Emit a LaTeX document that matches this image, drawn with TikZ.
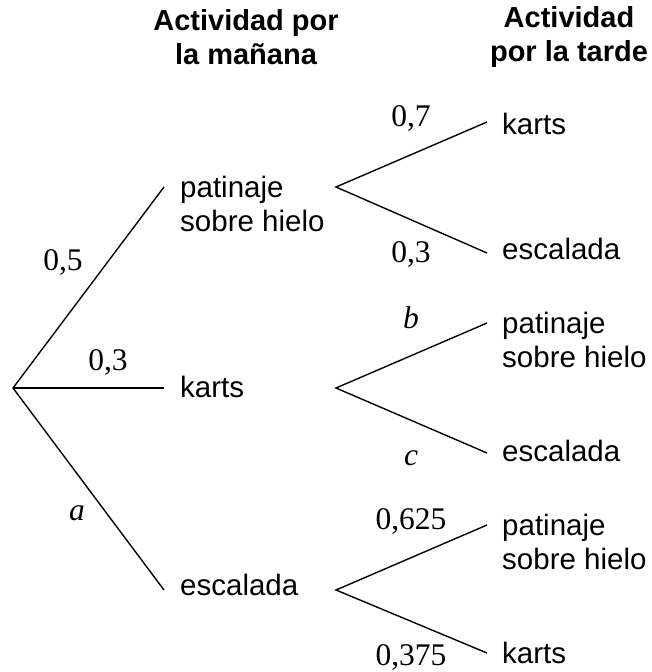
\documentclass[tikz,border=0pt]{standalone}
\usepackage{fontspec}
\setmainfont{Liberation Serif}
\setsansfont{Liberation Sans}
\usetikzlibrary{positioning}

\tikzset{
  outcome/.style={font=\sffamily\fontsize{29.5}{34}\selectfont, align=left, inner sep=0pt},
  header/.style={font=\sffamily\bfseries\fontsize{29}{34}\selectfont, align=center, inner sep=0pt},
  prob/.style={font=\fontsize{31.5}{34}\selectfont, inner sep=0pt},
  branch/.style={line width=1.4pt},
}

\begin{document}
\begin{tikzpicture}[x=1pt, y=-1pt]
      \useasboundingbox (0,0) rectangle (652,672);
      % headers
      \node[header] (hm) at (246,37) {Actividad por\\la mañana};
      \node[header] (ht) at (569,37) {Actividad\\por la tarde};

      % morning
      \coordinate (r) at (13,388);
      \coordinate (m1) at (164,187);
      \coordinate (m2) at (164,388);
      \coordinate (m3) at (164,590);
      \node[outcome, right=16pt of m1, yshift=-17pt] (m1t) {patinaje\\sobre hielo};
      \node[outcome, right=16pt of m2, yshift=1pt] (m2t) {karts};
      \node[outcome, right=16pt of m3, yshift=5pt] (m3t) {escalada};

      % afternoon
      \coordinate (a1) at (336,187);
      \coordinate (a2) at (336,388);
      \coordinate (a3) at (336,590);
      \coordinate (a1u) at (487,122);
      \coordinate (a1d) at (487,253);
      \coordinate (a2u) at (487,323);
      \coordinate (a2d) at (487,453);
      \coordinate (a3u) at (487,525);
      \coordinate (a3d) at (487,653);
      \node[outcome, right=15pt of a1u, yshift=-2pt] (a1ut) {karts};
      \node[outcome, right=15pt of a1d, yshift=4pt] (a1dt) {escalada};
      \node[outcome, right=15pt of a2u, yshift=-17pt] (a2ut) {patinaje\\sobre hielo};
      \node[outcome, right=15pt of a2d, yshift=2pt] (a2dt) {escalada};
      \node[outcome, right=15pt of a3u, yshift=-17pt] (a3ut) {patinaje\\sobre hielo};
      \node[outcome, right=15pt of a3d, yshift=0pt] (a3dt) {karts};

      \draw[branch] (m1) -- (r) -- (m3);
      \draw[branch] (r) -- (m2);
      \draw[branch] (a1u) -- (a1) -- (a1d);
      \draw[branch] (a2u) -- (a2) -- (a2d);
      \draw[branch] (a3u) -- (a3) -- (a3d);

      % probabilities
      \node[prob] (p1) at (63,262) {0,5};
      \node[prob] (p2) at (108,362) {0,3};
      \node[prob] (p3) at (77,513) {\textit{a}};
      \node[prob] (q1) at (411,118) {0,7};
      \node[prob] (q2) at (411,254) {0,3};
      \node[prob] (q3) at (411,318) {\textit{b}};
      \node[prob] (q4) at (411,458) {\textit{c}};
      \node[prob] (q5) at (411,521) {0,625};
      \node[prob] (q6) at (411,657) {0,375};
\end{tikzpicture}
\end{document}
